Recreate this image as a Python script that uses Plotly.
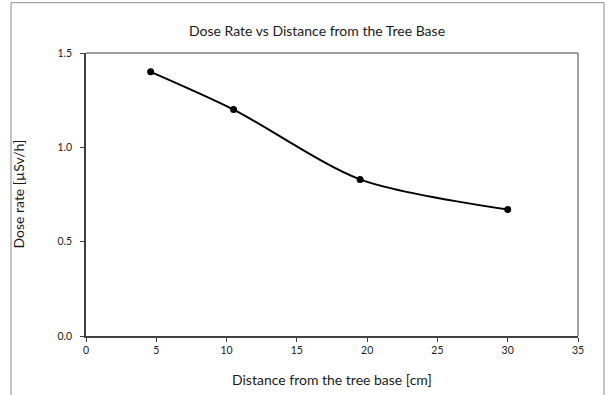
import plotly.graph_objects as go

distance_cm = [4.6, 10.5, 19.5, 30.0]
dose_rate = [1.40, 1.20, 0.83, 0.67]
x_ticks = [0, 5, 10, 15, 20, 25, 30, 35]
y_ticks = [0.0, 0.5, 1.0, 1.5]
y_tick_labels = ["0.0", "0.5", "1.0", "1.5"]

W, H = 613, 395
L, R, T, B = 86, 35, 52.5, 58.5
pw, ph = W - L - R, H - T - B

def px_x(p):
    return (p - L) / pw

def px_y(p):
    return (H - B - p) / ph

font = "Lato, 'Open Sans', sans-serif"
axcol = "#404040"
txtcol = "#1a1a1a"

fig = go.Figure()
fig.add_trace(go.Scatter(
    x=distance_cm, y=dose_rate, mode="lines+markers",
    line=dict(color="black", width=2, shape="spline", smoothing=0.8),
    marker=dict(color="black", size=7),
    showlegend=False, cliponaxis=False,
))

fig.update_layout(
    width=W, height=H,
    margin=dict(l=L, r=R, t=T, b=B),
    paper_bgcolor="white", plot_bgcolor="white",
    font=dict(family=font, color=txtcol, size=10),
    title=dict(text="Dose Rate vs Distance from the Tree Base",
               x=317 / W, xanchor="center", xref="container",
               y=1 - 31 / H, yanchor="middle", yref="container",
               font=dict(size=14, family=font, color=txtcol)),
    xaxis=dict(range=[0, 35], tickvals=x_ticks, ticks="outside", ticklen=4,
               tickcolor=axcol, showline=True, linecolor=axcol, linewidth=1.5,
               showgrid=False, zeroline=False, tickfont=dict(size=10.5),
               mirror=False),
    yaxis=dict(range=[0, 1.5], tickvals=y_ticks, ticktext=y_tick_labels,
               ticks="outside", ticklen=4, tickcolor=axcol, showline=True,
               linecolor=axcol, linewidth=1.5, showgrid=False, zeroline=False,
               tickfont=dict(size=10.5), ticklabelstandoff=6),
    shapes=[
        dict(type="line", xref="paper", yref="paper", x0=0, x1=1, y0=1, y1=1,
             line=dict(color="#404040", width=1.2)),
        dict(type="line", xref="paper", yref="paper", x0=1, x1=1, y0=0, y1=1,
             line=dict(color="#808080", width=1.5)),
        dict(type="rect", xref="paper", yref="paper",
             x0=px_x(11), x1=px_x(604), y0=px_y(405), y1=px_y(2),
             line=dict(color="#8a8a8a", width=1), layer="below"),
    ],
    annotations=[
        dict(text="Distance from the tree base [cm]", xref="paper", yref="paper",
             x=0.5, y=px_y(380), xanchor="center", yanchor="middle",
             showarrow=False, font=dict(size=14, family=font, color=txtcol)),
        dict(text="Dose rate [µSv/h]", xref="paper", yref="paper",
             x=px_x(18), y=0.5, xanchor="center", yanchor="middle", textangle=-90,
             showarrow=False, font=dict(size=14, family=font, color=txtcol)),
    ],
)

fig.write_html("out.html")
